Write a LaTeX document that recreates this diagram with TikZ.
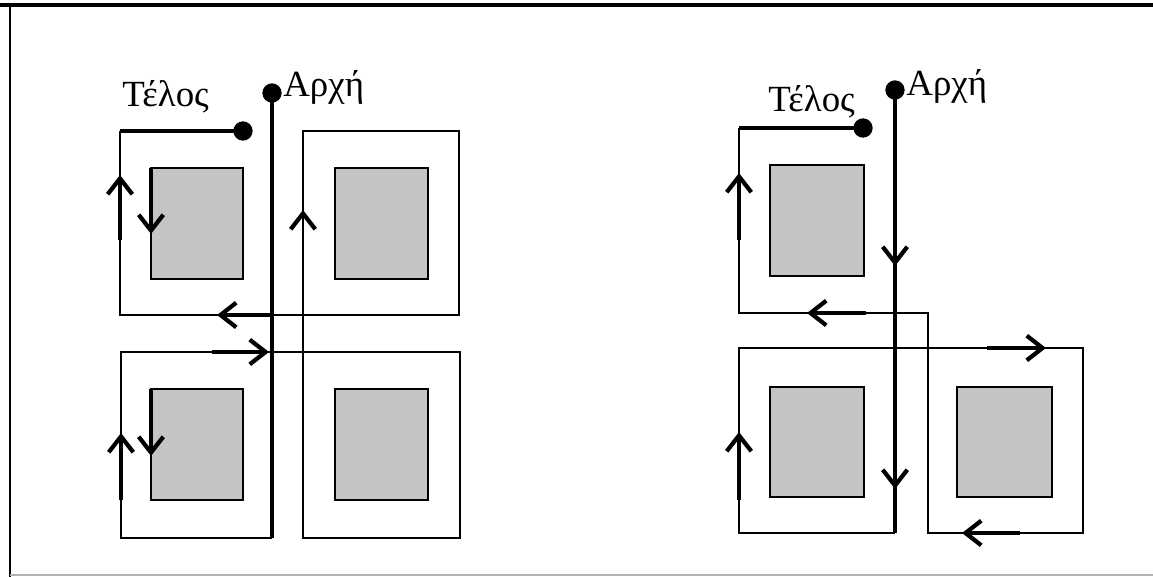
\documentclass[tikz,border=0pt]{standalone}
\usepackage{fontspec}
\setmainfont{Liberation Serif}
\usetikzlibrary{arrows.meta}

\tikzset{route/.style={draw, line width=1.3pt, line join=miter},
         bold/.style={draw, line width=2.4pt},
         seat/.style={draw, line width=1.3pt, fill=black!23},
         dir/.style={line width=2.4pt, -{Straight Barb[length=9pt, width=14pt, line width=2.4pt]}},
         thindir/.style={line width=1.3pt, -{Straight Barb[length=9pt, width=14pt, line width=2.4pt]}},
         lbl/.style={inner sep=0pt, anchor=base west, font=\fontsize{21}{25}\selectfont},
         stop/.style={circle, fill=black, inner sep=0pt, minimum size=11pt}}

\begin{document}
\begin{tikzpicture}[x=0.02cm, y=-0.02cm]
    \useasboundingbox (0,0) rectangle (1153,577);

    % frame
    \draw[line width=1.8pt] (0,5) -- (1153,5);
    \draw[line width=1.2pt] (10,5) -- (10,577);
    \draw[line width=0.8pt, black!30] (10,575) -- (1153,575);

    % left plan
    \filldraw[seat] (151,168) rectangle (243,279);
    \filldraw[seat] (335,168) rectangle (428,279);
    \filldraw[seat] (151,389) rectangle (243,500);
    \filldraw[seat] (335,389) rectangle (428,500);

    \node[stop] (start1) at (272,93) {};
    \node[stop] (end1) at (243,131) {};
    \node[lbl] (arxi1) at (283,97) {Αρχή};
    \node[lbl] (telos1) at (122,107) {Τέλος};

    \coordinate (bot1) at (272,538);
    \coordinate (turn1) at (120,131);

    \draw[route] (bot1) -- (121,538) -- (121,352) -- (460,352) -- (460,538) -- (303,538) -- (303,131) -- (459,131) -- (459,315) -- (120,315) -- (turn1);
    \draw[bold] (start1.center) -- (bot1);
    \draw[bold] (turn1) -- (end1.center);

    \draw[dir] (121,500) -- (121,433);
    \draw[dir] (120,240) -- (120,175);
    \draw[dir] (151,168) -- (151,234);
    \draw[dir] (151,389) -- (151,456);
    \draw[thindir] (303,280) -- (303,210);
    \draw[dir] (272,315) -- (217,315);
    \draw[dir] (212,352) -- (269,352);

    % right plan
    \filldraw[seat] (770,165) rectangle (864,276);
    \filldraw[seat] (770,387) rectangle (864,497);
    \filldraw[seat] (957,387) rectangle (1052,497);

    \node[stop] (start2) at (895,90) {};
    \node[stop] (end2) at (863,128) {};
    \node[lbl] (arxi2) at (906,96) {Αρχή};
    \node[lbl] (telos2) at (768,112) {Τέλος};

    \coordinate (bot2) at (895,533);
    \coordinate (turn2) at (739,128);

    \draw[route] (bot2) -- (739,533) -- (739,348) -- (1083,348) -- (1083,533) -- (928,533) -- (928,313) -- (739,313) -- (turn2);
    \draw[bold] (start2.center) -- (bot2);
    \draw[bold] (turn2) -- (end2.center);

    \draw[dir] (895,200) -- (895,266);
    \draw[dir] (895,420) -- (895,489);
    \draw[dir] (739,240) -- (739,173);
    \draw[dir] (739,500) -- (739,432);
    \draw[dir] (866,313) -- (807,313);
    \draw[dir] (987,348) -- (1046,348);
    \draw[dir] (1020,533) -- (962,533);

\end{tikzpicture}
\end{document}
